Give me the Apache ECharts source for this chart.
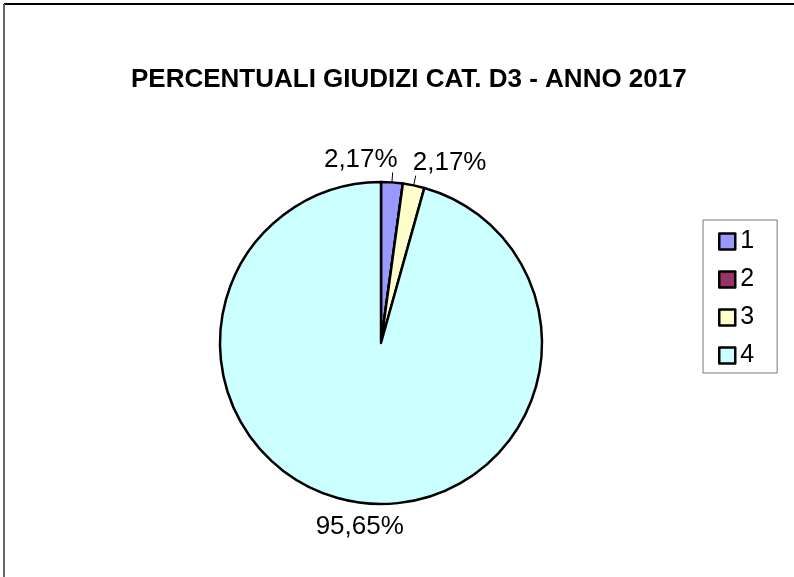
<!DOCTYPE html>
<html>
<head>
<meta charset="utf-8">
<script src="https://cdn.jsdelivr.net/npm/echarts@6/dist/echarts.min.js"></script>
<style>
html,body{margin:0;padding:0;background:#fff;}
#chart{width:794px;height:577px;}
</style>
</head>
<body>
<div id="chart"></div>
<script>
var titleText = 'PERCENTUALI GIUDIZI CAT. D3 - ANNO 2017';
var categories = ['1', '2', '3', '4'];
var values = [2.17, 0, 2.17, 95.65];
var colors = ['#9999FF', '#993366', '#FFFFCC', '#CCFFFF'];

function fmt(v) { return v.toFixed(2).replace('.', ',') + '%'; }

var chart = echarts.init(document.getElementById('chart'), null, {renderer: 'canvas'});
var data = categories.map(function (c, i) {
  var d = { name: c, value: values[i], itemStyle: { color: colors[i] } };
  if (values[i] === 0) { d.label = { show: false }; d.labelLine = { show: false }; }
  if (i === 3) { d.labelLine = { show: false }; }
  return d;
});

chart.setOption({
  backgroundColor: '#fff',
  animation: false,
  title: {
    text: titleText,
    left: 131, top: 67, padding: 0,
    textStyle: { fontFamily: 'Liberation Sans', fontWeight: 'bold', fontSize: 26, color: '#000' }
  },
  legend: {
    orient: 'vertical',
    left: 703, top: 220,
    padding: [9, 23, 5, 15],
    borderColor: '#777', borderWidth: 1,
    itemWidth: 16, itemHeight: 16, itemGap: 13,
    icon: 'rect',
    itemStyle: { borderColor: '#000', borderWidth: 2.5 },
    textStyle: { fontFamily: 'Liberation Sans', fontSize: 25, color: '#000', lineHeight: 24 },
    data: categories
  },
  graphic: [
    { type: 'line', shape: { x1: 4, y1: 4, x2: 794, y2: 4 }, style: { stroke: '#000', lineWidth: 2 } },
    { type: 'line', shape: { x1: 4, y1: 4, x2: 4, y2: 577 }, style: { stroke: '#666', lineWidth: 2 } }
  ],
  series: [{
    type: 'pie',
    center: [381, 343],
    radius: 161,
    startAngle: 90,
    clockwise: true,
    avoidLabelOverlap: false,
    itemStyle: { borderColor: '#000', borderWidth: 2.5 },
    label: {
      show: true,
      position: 'outside',
      fontFamily: 'Liberation Sans', fontSize: 26, color: '#000',
      formatter: function (p) { return fmt(p.value); }
    },
    labelLine: { show: true, length: 10, length2: 0, lineStyle: { color: '#000', width: 1 } },
    labelLayout: function (p) {
      if (p.dataIndex === 0) return { align: 'right', dy: -13, dx: 0 };
      if (p.dataIndex === 2) return { align: 'left', dy: -13, dx: -8 };
      if (p.dataIndex === 3) return { align: 'center', dy: 14, dx: 7 };
      return {};
    },
    data: data
  }]
});
</script>
</body>
</html>
